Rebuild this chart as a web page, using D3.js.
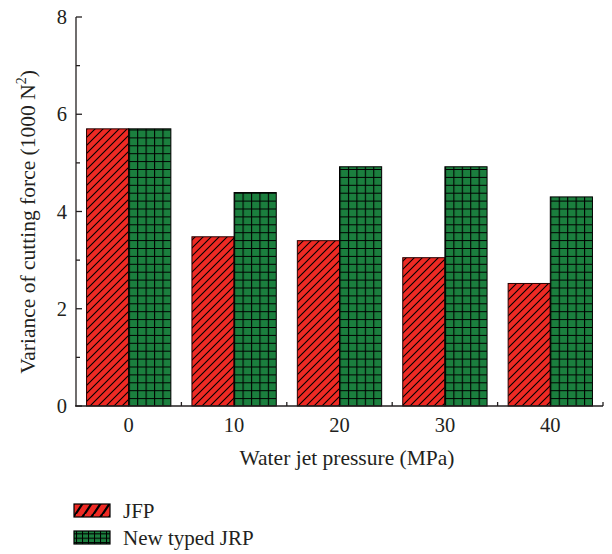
<!DOCTYPE html>
<html><head><meta charset="utf-8">
<script src="https://cdn.jsdelivr.net/npm/d3@7"></script>
<style>
body{margin:0;background:#fff}
text{font-family:"Liberation Serif","Times New Roman",serif;fill:#231f20}
</style></head><body>
<script>
const pressures=[0,10,20,30,40];
const jfp=[5.70,3.48,3.40,3.05,2.52];
const jrp=[5.70,4.39,4.92,4.92,4.30];
const seriesNames=["JFP","New typed JRP"];
const yTicks=[0,2,4,6,8];
const yMinor=[1,3,5,7];
const xMinor=[5,15,25,35,45];

const W=612,H=554;
const RED="#ee2a24",GREEN="#1b7f3e";
const svg=d3.select("body").append("svg").attr("width",W).attr("height",H);
const x=d3.scaleLinear().domain([-5,45]).range([76,603]);
const y=d3.scaleLinear().domain([0,8]).range([406,17]);
const bw=x(4)-x(0);
const cellW=bw/5, cellH=7.9;
const defs=svg.append("defs");

// red hatch pattern
const hs=8;
const rp=defs.append("pattern").attr("id","hatchRed").attr("patternUnits","userSpaceOnUse")
  .attr("width",hs).attr("height",hs);
rp.append("rect").attr("width",hs).attr("height",hs).attr("fill",RED);
rp.append("path").attr("d",`M0,${hs}L${hs},0M-2,2L2,-2M${hs-2},${hs+2}L${hs+2},${hs-2}`).attr("stroke","#000").attr("stroke-width",1.1);

// green grid patterns per category (aligned to each bar)
pressures.forEach((p,i)=>{
  const gp=defs.append("pattern").attr("id","grid"+i).attr("patternUnits","userSpaceOnUse")
    .attr("x",x(p)).attr("y",y(0)).attr("width",cellW).attr("height",cellH);
  gp.append("rect").attr("width",cellW).attr("height",cellH).attr("fill",GREEN);
  gp.append("path").attr("d",`M0.5,0V${cellH}M0,0.5H${cellW}`).attr("stroke","#000").attr("stroke-width",1.2);
});

// bars
const g=svg.append("g");
g.selectAll(".r").data(pressures).enter().append("rect")
  .attr("x",d=>x(d)-bw).attr("y",(d,i)=>y(jfp[i])).attr("width",bw)
  .attr("height",(d,i)=>y(0)-y(jfp[i])).attr("fill","url(#hatchRed)")
  .attr("stroke","#2a0000").attr("stroke-width",1);
g.selectAll(".gr").data(pressures).enter().append("rect")
  .attr("x",d=>x(d)).attr("y",(d,i)=>y(jrp[i])).attr("width",bw)
  .attr("height",(d,i)=>y(0)-y(jrp[i])).attr("fill",(d,i)=>`url(#grid${i})`)
  .attr("stroke","#000").attr("stroke-width",1);

// y axis
const ax=svg.append("g").attr("stroke","#231f20");
ax.append("line").attr("x1",x(-5)).attr("x2",x(-5)).attr("y1",y(0)).attr("y2",y(8)).attr("stroke-width",1.3);
ax.selectAll(".yt").data(yTicks).enter().append("line")
  .attr("x1",x(-5)).attr("x2",x(-5)+6).attr("y1",d=>y(d)).attr("y2",d=>y(d)).attr("stroke-width",1.3);
ax.selectAll(".ym").data(yMinor).enter().append("line")
  .attr("x1",x(-5)).attr("x2",x(-5)+4).attr("y1",d=>y(d)).attr("y2",d=>y(d)).attr("stroke-width",1.3);
svg.selectAll(".yl").data(yTicks).enter().append("text")
  .attr("x",x(-5)-9).attr("y",d=>y(d)+7).attr("text-anchor","end").attr("font-size",20.5).text(d=>d);

// x axis
ax.append("line").attr("x1",x(-5)-1).attr("x2",x(45)).attr("y1",y(0)).attr("y2",y(0)).attr("stroke-width",1.5);
ax.selectAll(".xm").data(xMinor).enter().append("line")
  .attr("x1",d=>x(d)).attr("x2",d=>x(d)).attr("y1",y(0)).attr("y2",y(0)-4).attr("stroke-width",1.3);
svg.selectAll(".xl").data(pressures).enter().append("text")
  .attr("x",d=>x(d)).attr("y",432).attr("text-anchor","middle").attr("font-size",20.5).text(d=>d);

svg.append("text").attr("x",347).attr("y",465).attr("text-anchor","middle")
  .attr("font-size",21.5).text("Water jet pressure (MPa)");

const yt=svg.append("text").attr("transform","translate(35,222) rotate(-90)").attr("text-anchor","middle").attr("font-size",21.5);
yt.append("tspan").text("Variance of cutting force (1000 N");
yt.append("tspan").attr("dy",-9).attr("font-size",14).text("2");
yt.append("tspan").attr("dy",9).text(")");

// legend
const lr=defs.append("pattern").attr("id","legRed").attr("patternUnits","userSpaceOnUse")
  .attr("x",74).attr("y",504).attr("width",9).attr("height",13);
lr.append("rect").attr("width",9).attr("height",13).attr("fill",RED);
lr.append("path").attr("d","M-1,14L9,-1M8,14L18,-1").attr("stroke","#000").attr("stroke-width",2.2);
const lg=defs.append("pattern").attr("id","legGreen").attr("patternUnits","userSpaceOnUse")
  .attr("x",74).attr("y",531).attr("width",6).attr("height",13/3);
lg.append("rect").attr("width",6).attr("height",13/3).attr("fill",GREEN);
lg.append("path").attr("d",`M0.5,0V${13/3}M0,0.5H6`).attr("stroke","#000").attr("stroke-width",1.1);

const legFills=["url(#legRed)","url(#legGreen)"];
const leg=svg.selectAll(".leg").data(seriesNames).enter().append("g")
  .attr("transform",(d,i)=>`translate(74,${504+i*27})`);
leg.append("rect").attr("width",36).attr("height",13).attr("fill",(d,i)=>legFills[i])
  .attr("stroke","#000").attr("stroke-width",1.2);
leg.append("text").attr("x",49).attr("y",13.5).attr("font-size",21).text(d=>d);
</script></body></html>
